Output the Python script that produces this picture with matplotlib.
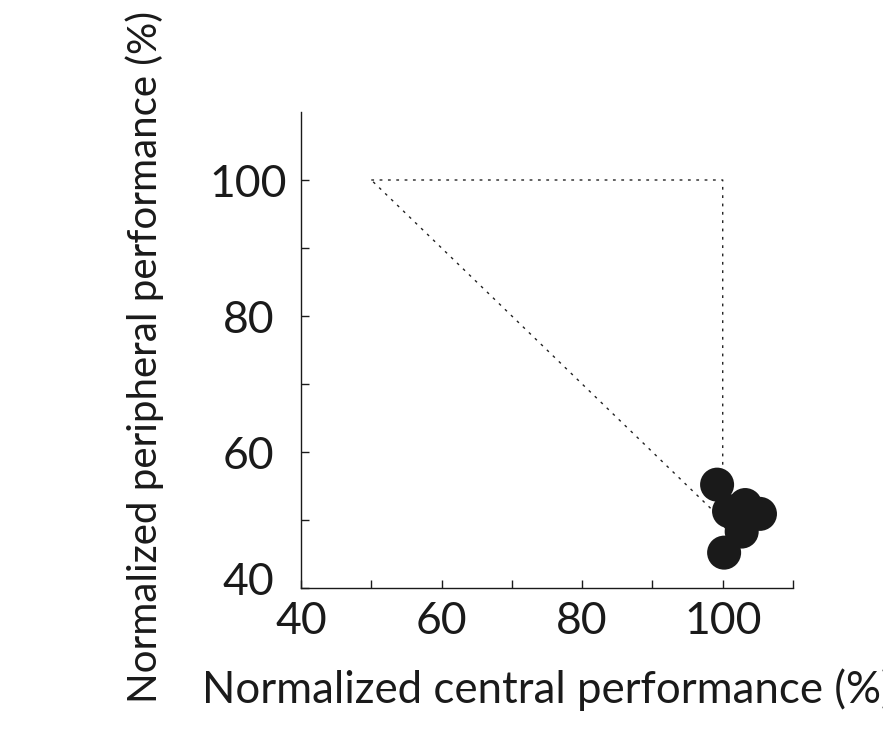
import matplotlib
matplotlib.use("Agg")
import matplotlib.pyplot as plt
from matplotlib.ticker import MultipleLocator
from matplotlib.transforms import ScaledTranslation

plt.rcParams['font.family'] = ['Lato', 'DejaVu Sans']

central = [99.2, 100.9, 103.2, 105.3, 102.7, 100.2, 102.2]
peripheral = [55.2, 51.3, 52.2, 50.9, 48.3, 45.2, 50.3]

tri_x = [50, 100, 100, 50]
tri_y = [100, 100, 50, 100]

xticks = [40, 60, 80, 100]
yticks = [40, 60, 80, 100]

fig = plt.figure(figsize=(8.83, 7.37), dpi=100)
ax = fig.add_axes([301/883, 1-588/737, (793-301)/883, (588-112)/737])

ax.plot(tri_x, tri_y, color='#222222', lw=1.0, linestyle=(0, (2, 4)))
ax.scatter(central, peripheral, s=600, color='#1a1a1a', edgecolors='none', zorder=3)

ax.set_xlim(40, 110)
ax.set_ylim(40, 110)
ax.set_xticks(xticks)
ax.set_yticks(yticks)
ax.xaxis.set_minor_locator(MultipleLocator(10))
ax.set_yticks([50, 70, 90], minor=True)
ax.tick_params(which='both', direction='in', length=6, width=1, labelsize=32, colors='#1a1a1a')
ax.tick_params(axis='x', pad=9)
ax.tick_params(axis='y', pad=37.8)
for lbl in ax.get_yticklabels():
    lbl.set_horizontalalignment('center')
first = ax.get_yticklabels()[0]
first.set_transform(first.get_transform() + ScaledTranslation(0, 6.5/72, fig.dpi_scale_trans))

for s in ['top', 'right']:
    ax.spines[s].set_visible(False)
for s in ['left', 'bottom']:
    ax.spines[s].set_linewidth(1)
    ax.spines[s].set_color('#1a1a1a')

ax.set_xlabel('Normalized central performance (%)', fontsize=31.5, labelpad=19, color='#1a1a1a')
ax.set_ylabel('Normalized peripheral performance (%)', fontsize=29, color='#1a1a1a')
ax.yaxis.set_label_coords(-0.278, 0.485)

fig.savefig('out.png', dpi=100)
